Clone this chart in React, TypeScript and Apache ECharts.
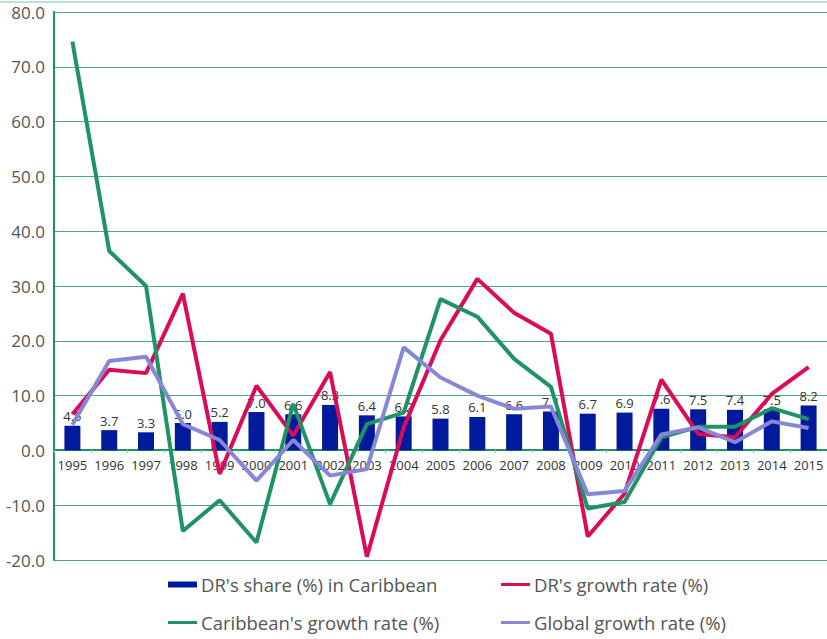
import React, { useEffect, useRef } from "react";
import * as echarts from "echarts";

const years = ["1995","1996","1997","1998","1999","2000","2001","2002","2003","2004","2005","2006","2007","2008","2009","2010","2011","2012","2013","2014","2015"];
const drShare = [4.5,3.7,3.3,5.0,5.2,7.0,6.6,8.3,6.4,6.2,5.8,6.1,6.6,7.1,6.7,6.9,7.6,7.5,7.4,7.5,8.2];
const drGrowth = [6.6,14.7,14.1,28.6,-4.3,11.8,2.7,14.3,-19.4,4.2,20.1,31.3,25.1,21.3,-15.7,-7.9,12.9,3.0,2.4,10.3,15.2];
const caribGrowth = [74.6,36.4,30.0,-14.7,-9.1,-16.8,8.5,-9.8,4.8,6.9,27.6,24.4,16.7,11.6,-10.6,-9.4,2.4,4.3,4.3,7.7,5.7];
const globalGrowth = [4.7,16.3,17.1,4.8,1.9,-5.5,1.9,-4.6,-3.4,18.8,13.3,10.0,7.6,8.0,-8.0,-7.4,2.9,4.2,1.5,5.3,4.1];

const names = ["DR's share (%) in Caribbean", "DR's growth rate (%)", "Caribbean's growth rate (%)", "Global growth rate (%)"];
const colors = { bar: "#001a9c", red: "#dc0a5a", green: "#1f9363", blue: "#8787d8" };
const FONT = "'Open Sans', 'Noto Sans', sans-serif";

export default function App() {
  const ref = useRef<HTMLDivElement>(null);
  useEffect(() => {
    const chart = echarts.init(ref.current!, null, { renderer: "svg" });
    const legendText = { fontSize: 18.5, color: "#555", fontFamily: FONT, padding: [0, 0, 0, -1] };
    const mkLegend = (name: string, left: number, top: number, h: number) => ({
      data: [{ name, icon: "rect" }],
      left, top, itemWidth: 29, itemHeight: h, itemGap: 0,
      textStyle: legendText, padding: 0, selectedMode: false,
    });
    chart.setOption({
      animation: false,
      textStyle: { fontFamily: FONT },
      grid: { left: 54, right: 0, top: 12, bottom: 79, containLabel: false },
      legend: [
        mkLegend(names[0], 168, 575, 6),
        mkLegend(names[1], 501, 575, 3),
        mkLegend(names[2], 168, 613, 3),
        mkLegend(names[3], 501, 613, 3),
      ],
      graphic: [
        { type: "line", shape: { x1: 0, y1: 2, x2: 827, y2: 2 }, style: { stroke: "#7cc3a2", lineWidth: 1 } },
      ],
      xAxis: {
        type: "category",
        data: years,
        offset: -110,
        axisLine: { onZero: false, lineStyle: { color: "#1f9363", width: 2 } },
        axisTick: { show: true, length: 3, lineStyle: { color: "#8cc9ad" } },
        axisLabel: { interval: 0, fontSize: 13, color: "#333", margin: 8, fontFamily: FONT },
      },
      yAxis: {
        type: "value",
        min: -20, max: 80, interval: 10,
        axisLine: { show: true, lineStyle: { color: "#1f9363", width: 2 } },
        axisTick: { show: false },
        axisLabel: { fontSize: 17, color: "#555", margin: 9, formatter: (v: number) => v.toFixed(1), fontFamily: FONT },
        splitLine: { lineStyle: { color: "#4fa882", width: 1 } },
      },
      series: [
        {
          name: names[0], type: "bar", data: drShare, barWidth: 16,
          itemStyle: { color: colors.bar },
          label: { show: true, position: "top", distance: 3, fontSize: 13, color: "#333", formatter: (p: any) => p.value.toFixed(1), fontFamily: FONT },
          z: 2,
        },
        { name: names[1], type: "line", data: drGrowth, symbol: "none", color: colors.red, lineStyle: { width: 4, color: colors.red }, z: 3 },
        { name: names[2], type: "line", data: caribGrowth, symbol: "none", color: colors.green, lineStyle: { width: 4, color: colors.green }, z: 3 },
        { name: names[3], type: "line", data: globalGrowth, symbol: "none", color: colors.blue, lineStyle: { width: 4, color: colors.blue }, z: 3 },
      ],
    });
    return () => chart.dispose();
  }, []);
  return <div ref={ref} style={{ width: 827, height: 639, position: "absolute", left: 0, top: 0 }} />;
}
